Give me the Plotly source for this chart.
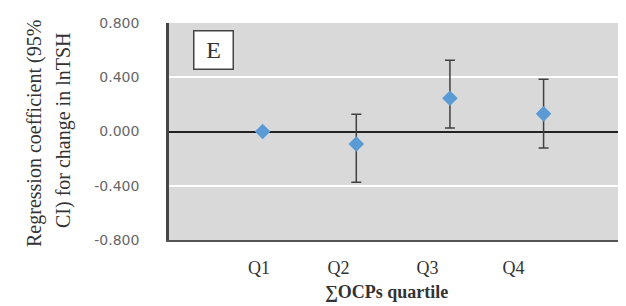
import plotly.graph_objects as go

categories = ["Q1", "Q2", "Q3", "Q4"]
coef = [0.000, -0.092, 0.245, 0.130]
upper = [0.000, 0.128, 0.526, 0.385]
lower = [0.000, -0.374, 0.025, -0.122]
y_ticks = [-0.8, -0.4, 0.0, 0.4, 0.8]
y_tick_text = ["-0.800", "-0.400", "0.000", "0.400", "0.800"]
# label positions (category units) as drawn in the source figure
label_pos = [-0.04, 0.81, 1.76, 2.68]

err_plus = [u - c for u, c in zip(upper, coef)]
err_minus = [c - l for c, l in zip(coef, lower)]

# page-pixel helpers (page has 8px body margin)
PL, PR, PT, PB = 169, 626, 23, 240
def px(x):
    return (x - PL) / (PR - PL)
def py(y):
    return (PB - y) / (PB - PT)

fig = go.Figure()
fig.add_trace(go.Scatter(
    x=list(range(len(categories))), y=coef, mode="markers",
    marker=dict(symbol="diamond", size=12, color="#5b9bd5"),
    error_y=dict(type="data", symmetric=False, array=err_plus, arrayminus=err_minus,
                 color="#404040", thickness=1.5, width=5),
    showlegend=False,
))

fig.update_layout(
    width=618, height=298,
    margin=dict(l=PL - 8, r=0, t=PT - 8, b=298 - (PB - 8)),
    paper_bgcolor="white", plot_bgcolor="#d9d9d9",
    xaxis=dict(range=[-1, 3.88], tickmode="array", tickvals=label_pos,
               ticktext=categories, showgrid=False, zeroline=False,
               showline=True, linecolor="#555555", linewidth=2,
               tickfont=dict(family="Liberation Serif", size=18, color="#333333"),
               ticks="", ticklabelstandoff=10),
    yaxis=dict(range=[-0.8, 0.8], tickmode="array", tickvals=y_ticks, ticktext=y_tick_text,
               showgrid=True, gridcolor="white", gridwidth=1.5,
               zeroline=True, zerolinecolor="#222222", zerolinewidth=1.5,
               showline=True, linecolor="#444444", linewidth=2.5,
               tickfont=dict(family="DejaVu Sans", size=14, color="#666666"),
               ticks="", ticklabelstandoff=24),
)

fig.add_annotation(
    text="Regression coefficient (95%",
    xref="paper", yref="paper", x=px(34), y=py(134),
    xanchor="center", yanchor="middle", textangle=-90, showarrow=False,
    font=dict(family="Liberation Serif", size=20, color="#333333"),
)
fig.add_annotation(
    text="CI) for change in lnTSH",
    xref="paper", yref="paper", x=px(63), y=py(130),
    xanchor="center", yanchor="middle", textangle=-90, showarrow=False,
    font=dict(family="Liberation Serif", size=20, color="#333333"),
)
fig.add_annotation(
    text="<b>∑OCPs quartile</b>", xref="paper", yref="paper",
    x=px(386), y=py(292),
    xanchor="center", yanchor="middle", showarrow=False,
    font=dict(family="Liberation Serif", size=18, color="#333333"),
)
fig.add_annotation(
    text="E", xref="paper", yref="paper",
    x=px(213), y=py(50),
    xanchor="center", yanchor="middle", showarrow=False,
    width=36, height=35, bgcolor="white", bordercolor="#444444", borderwidth=1.5,
    font=dict(family="Liberation Serif", size=24, color="#333333"),
)

fig.write_html("out.html")
